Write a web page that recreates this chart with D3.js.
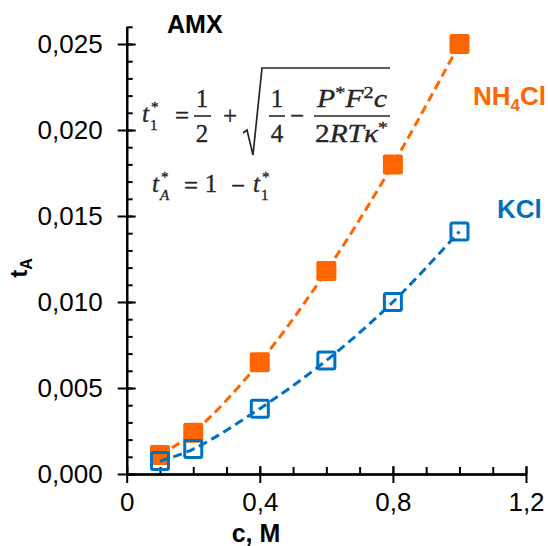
<!DOCTYPE html>
<html>
<head>
<meta charset="utf-8">
<script src="https://cdn.jsdelivr.net/npm/d3@7"></script>
<style>
  html, body { margin: 0; padding: 0; background: #fff; }
  svg { display: block; }
</style>
</head>
<body>
<script>
// ---- data ----
const cValues = [0.1, 0.2, 0.4, 0.6, 0.8, 1.0];
const nh4clValues = [0.0011, 0.0024, 0.0065, 0.0118, 0.0180, 0.0250];
const kclValues = [0.00075, 0.00145, 0.0038, 0.0066, 0.0100, 0.0141];
const xTickValues = [0, 0.4, 0.8, 1.2];
const xTickLabels = ["0", "0,4", "0,8", "1,2"];
const yTickValues = [0, 0.005, 0.010, 0.015, 0.020, 0.025];
const yTickLabels = ["0,000", "0,005", "0,010", "0,015", "0,020", "0,025"];

const W = 548, H = 546;
const svg = d3.select("body").append("svg").attr("width", W).attr("height", H)
  .style("font-family", "'Liberation Sans', Arial, sans-serif");

const x = d3.scaleLinear().domain([0, 1.2]).range([126.7, 526]);
const y = d3.scaleLinear().domain([0, 0.026]).range([474, 26.8]);

const orange = "#FF6600", blue = "#0070C0";

// ---- axes ----
const minorX = d3.range(0, 13).map(i => i / 10);
const minorY = d3.range(0, 27).map(i => i / 1000);

function styleAxis(g) {
  g.selectAll("path.domain").attr("stroke", "#000").attr("stroke-width", 2);
  g.selectAll(".tick line").attr("stroke", "#000").attr("stroke-width", 2);
  g.selectAll("text").attr("fill", "#000").style("font-size", "26px");
}

// y axis
svg.append("g").attr("transform", `translate(${x(0)},0)`)
  .call(d3.axisRight(y).tickValues(minorY).tickSize(6).tickFormat("").tickSizeOuter(0))
  .call(styleAxis);
svg.append("g").attr("transform", `translate(${x(0)},0)`)
  .call(d3.axisRight(y).tickValues(yTickValues).tickSize(9).tickFormat("").tickSizeOuter(0))
  .call(styleAxis);
svg.append("g").attr("transform", `translate(${x(0)},0)`)
  .call(d3.axisLeft(y).tickValues(yTickValues).tickSize(9).tickPadding(15)
        .tickFormat((d, i) => yTickLabels[i]).tickSizeOuter(0))
  .call(styleAxis);

// x axis
svg.append("g").attr("transform", `translate(0,${y(0)})`)
  .call(d3.axisTop(x).tickValues(minorX).tickSize(7).tickFormat("").tickSizeOuter(0))
  .call(styleAxis);
svg.append("g").attr("transform", `translate(0,${y(0)})`)
  .call(d3.axisTop(x).tickValues(xTickValues).tickSize(8).tickFormat("").tickSizeOuter(0))
  .call(styleAxis);
svg.append("g").attr("transform", `translate(0,${y(0)})`)
  .call(d3.axisBottom(x).tickValues(xTickValues).tickSize(9).tickPadding(10)
        .tickFormat((d, i) => xTickLabels[i]).tickSizeOuter(0))
  .call(styleAxis);

// axis titles
svg.append("text").attr("x", 256).attr("y", 542).attr("text-anchor", "middle")
  .style("font-size", "25px").style("font-weight", "bold").text("c, M");

const yl = svg.append("text").attr("transform", "translate(27,268) rotate(-90)")
  .attr("text-anchor", "middle").style("font-weight", "bold");
yl.append("tspan").style("font-size", "24px").text("t");
yl.append("tspan").style("font-size", "16px").attr("dy", 5).text("A");

// ---- series ----
const line = d3.line().x(d => x(d[0])).y(d => y(d[1])).curve(d3.curveCatmullRom);
const nhData = cValues.map((c, i) => [c, nh4clValues[i]]);
const kData = cValues.map((c, i) => [c, kclValues[i]]);

svg.append("path").datum(nhData).attr("d", line).attr("fill", "none")
  .attr("stroke", orange).attr("stroke-width", 3).attr("stroke-dasharray", "9,5");
svg.selectAll("rect.nh").data(nhData).enter().append("rect").attr("class", "nh")
  .attr("x", d => x(d[0]) - 10).attr("y", d => y(d[1]) - 10)
  .attr("width", 20).attr("height", 20).attr("rx", 2).attr("fill", orange);

svg.append("path").datum(kData).attr("d", line).attr("fill", "none")
  .attr("stroke", blue).attr("stroke-width", 3).attr("stroke-dasharray", "9,5");
svg.selectAll("rect.k").data(kData).enter().append("rect").attr("class", "k")
  .attr("x", d => x(d[0]) - 8.5).attr("y", d => y(d[1]) - 8.5)
  .attr("width", 17).attr("height", 17).attr("rx", 1.5).attr("fill", "none")
  .attr("stroke", blue).attr("stroke-width", 3);

// ---- labels ----
svg.append("text").attr("x", 167).attr("y", 33).style("font-size", "25px")
  .style("font-weight", "bold").text("AMX");

const nhL = svg.append("text").attr("x", 473).attr("y", 105).attr("fill", orange)
  .style("font-size", "26px").style("font-weight", "bold");
nhL.append("tspan").text("NH");
nhL.append("tspan").style("font-size", "17px").attr("dy", 6).text("4");
nhL.append("tspan").attr("dy", -6).text("Cl");

svg.append("text").attr("x", 497).attr("y", 218).attr("fill", blue)
  .style("font-size", "26px").style("font-weight", "bold").text("KCl");

// ---- formula ----
const ink = "#262626";
const fm = svg.append("g").attr("fill", ink).attr("stroke", ink).attr("stroke-width", 0.35)
  .style("font-family", "'Liberation Serif', 'Times New Roman', serif");
const FS = 25;
function txt(xp, yp, s, opts = {}) {
  const t = fm.append("text").attr("x", xp).attr("y", yp)
    .style("font-size", (opts.size || FS) + "px")
    .style("font-style", opts.italic ? "italic" : "normal")
    .attr("text-anchor", opts.anchor || "start").text(s);
  return t;
}
function tstar(xp, yp, sub, subItalic) {
  txt(xp, yp, "t", { italic: true });
  txt(xp + 8, yp + 8, sub, { size: 15, italic: subItalic });
  txt(xp + 9, yp - 10, "*", { size: 15 });
}
function bar(x1, x2, yy) {
  fm.append("line").attr("x1", x1).attr("x2", x2).attr("y1", yy).attr("y2", yy)
    .attr("stroke", ink).attr("stroke-width", 1.6);
}
// line 1
tstar(142, 122, "1", false);
txt(182, 124, "=", { anchor: "middle" });
txt(202, 107, "1", { anchor: "middle" });
bar(194, 211, 116);
txt(202, 142, "2", { anchor: "middle" });
txt(230, 124, "+", { anchor: "middle" });
fm.append("path").attr("d", "M243,133 L247,130 L253,155 L262,68 L390,68")
  .attr("fill", "none").attr("stroke", ink).attr("stroke-width", 1.7);
txt(277, 107, "1", { anchor: "middle" });
bar(269, 285, 116);
txt(277, 142, "4", { anchor: "middle" });
txt(297, 124, "\u2212", { anchor: "middle" });
const num = fm.append("text").attr("x", 317).attr("y", 107).style("font-size", FS + "px")
  .attr("textLength", 70).attr("lengthAdjust", "spacingAndGlyphs");
num.append("tspan").style("font-style", "italic").text("P");
num.append("tspan").style("font-size", "17px").attr("dy", -9).text("*");
num.append("tspan").style("font-style", "italic").attr("dy", 9).text("F");
num.append("tspan").style("font-size", "17px").attr("dy", -9).text("2");
num.append("tspan").style("font-style", "italic").attr("dy", 9).text("c");
bar(314, 390, 116);
const den = fm.append("text").attr("x", 315).attr("y", 142).style("font-size", FS + "px")
  .attr("textLength", 73).attr("lengthAdjust", "spacingAndGlyphs");
den.append("tspan").text("2");
den.append("tspan").style("font-style", "italic").text("RT\u03BA");
den.append("tspan").style("font-size", "17px").attr("dy", -9).text("*");
// line 2
tstar(152, 192, "A", true);
txt(191, 194, "=", { anchor: "middle" });
txt(211, 192, "1", { anchor: "middle" });
txt(238, 194, "\u2212", { anchor: "middle" });
tstar(253, 192, "1", false);
</script>
</body>
</html>
